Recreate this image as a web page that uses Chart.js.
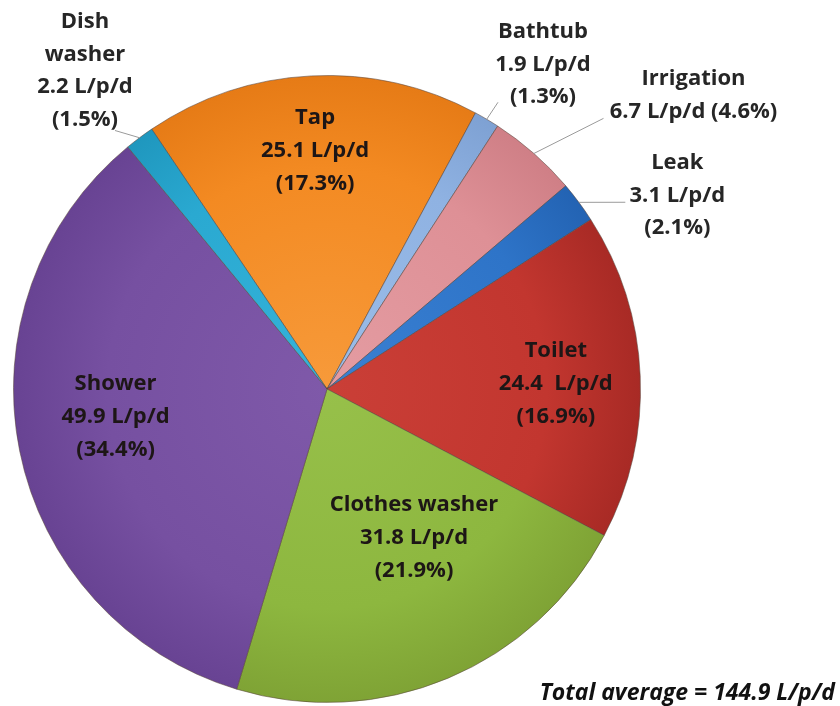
<!DOCTYPE html>
<html>
<head>
<meta charset="utf-8">
<script src="https://cdn.jsdelivr.net/npm/chart.js@4"></script>
<style>
  html, body { margin: 0; padding: 0; background: #ffffff; }
  #wrap { width: 840px; height: 706px; position: relative; }
</style>
</head>
<body>
<div id="wrap"><canvas id="c" width="840" height="706"></canvas></div>
<script>
// ---- data ----
const categories = ["Tap", "Bathtub", "Irrigation", "Leak", "Toilet", "Clothes washer", "Shower", "Dish washer"];
const litresPerPersonDay = [25.1, 1.9, 6.7, 3.1, 24.4, 31.8, 49.9, 2.2];
const percentShares = [17.3, 1.3, 4.6, 2.1, 16.9, 21.9, 34.4, 1.5];
const totalAverage = 144.9;

// ---- styles ----
const baseColors = ["#F38A22", "#8FB2E2", "#DE9096", "#2E74C8", "#C2362F", "#8DB73F", "#7650A1", "#2AA9D1"];
const rimColors  = ["#E67B16", "#7EA1D3", "#CF7F86", "#2363B3", "#A82A25", "#7FA335", "#684393", "#1F97BE"];
const centerColors = ["#F79A3A", "#9BBDE8", "#E49CA2", "#3A80D2", "#CA3F37", "#97C04A", "#7F59A9", "#35B3D9"];

// label placement: radius fraction, angle offset (deg), optional leader line end offset
const labelPlace = [
  { f: 0.76, a: 0 },
  { f: 1.244, a: 3, lead: [-45, 38] },
  { f: 1.498, a: 10, lead: [-90, 23] },
  { f: 1.277, a: 7.6, lead: [-52, 7] },
  { f: 0.73, a: 1.2 },
  { f: 0.55, a: -7.6 },
  { f: 0.68, a: 4 },
  { f: 1.276, a: -0.5, lead: [30, 60] }
];

function labelLines(i) {
  const name = categories[i];
  const v = litresPerPersonDay[i].toFixed(1) + " L/p/d";
  const p = "(" + percentShares[i].toFixed(1) + "%)";
  if (name === "Dish washer") return ["Dish", "washer", v, p];
  if (name === "Irrigation") return [name, v + " " + p];
  if (name === "Toilet") return [name, litresPerPersonDay[i].toFixed(1) + "  L/p/d", p];
  return [name, v, p];
}

const FONT = 'bold 22px "Open Sans", Lato, sans-serif';

const labelPlugin = {
  id: 'sliceLabels',
  afterDatasetsDraw(chart) {
    const ctx = chart.ctx;
    const meta = chart.getDatasetMeta(0);
    ctx.save();
    meta.data.forEach((arc, i) => {
      const pr = arc.getProps(['x', 'y', 'startAngle', 'endAngle', 'outerRadius'], true);
      const mid = (pr.startAngle + pr.endAngle) / 2;
      const spec = labelPlace[i];
      const ang = mid + spec.a * Math.PI / 180;
      const lx = pr.x + Math.cos(ang) * pr.outerRadius * spec.f;
      const ly = pr.y + Math.sin(ang) * pr.outerRadius * spec.f;
      if (spec.lead) {
        const ex = pr.x + Math.cos(mid) * pr.outerRadius;
        const ey = pr.y + Math.sin(mid) * pr.outerRadius;
        ctx.beginPath();
        ctx.strokeStyle = '#9a9a9a';
        ctx.lineWidth = 1;
        ctx.moveTo(ex, ey);
        ctx.lineTo(lx + spec.lead[0], ly + spec.lead[1]);
        ctx.stroke();
      }
      const lines = labelLines(i);
      const lh = spec.lead ? 32.5 : 33;
      ctx.font = FONT;
      ctx.fillStyle = spec.lead ? '#262626' : '#1d1616';
      ctx.textAlign = 'center';
      ctx.textBaseline = 'middle';
      const y0 = ly - (lines.length - 1) * lh / 2;
      lines.forEach((t, k) => ctx.fillText(t, lx, y0 + k * lh));
    });
    // total annotation
    ctx.font = 'italic bold 23px "Open Sans", Lato, sans-serif';
    ctx.fillStyle = '#111';
    ctx.textAlign = 'right';
    ctx.textBaseline = 'middle';
    ctx.fillText('Total average = ' + totalAverage.toFixed(1) + ' L/p/d', 835, 693);
    ctx.restore();
  }
};

function sliceFill(context) {
  const chart = context.chart;
  const i = context.dataIndex;
  const area = chart.chartArea;
  if (!area) return baseColors[i];
  const cx = (area.left + area.right) / 2;
  const cy = (area.top + area.bottom) / 2;
  const r = Math.min(area.right - area.left, area.bottom - area.top) / 2;
  const g = chart.ctx.createRadialGradient(cx, cy, 0, cx, cy, r);
  g.addColorStop(0, centerColors[i]);
  g.addColorStop(0.7, baseColors[i]);
  g.addColorStop(1, rimColors[i]);
  return g;
}

new Chart(document.getElementById('c'), {
  type: 'pie',
  data: {
    labels: categories,
    datasets: [{
      data: litresPerPersonDay,
      backgroundColor: sliceFill,
      borderColor: 'rgba(90,70,60,0.55)',
      borderWidth: 1
    }]
  },
  options: {
    responsive: false,
    animation: false,
    rotation: -34,
    layout: { padding: { left: 13, right: 199, top: 75, bottom: 3 } },
    plugins: {
      legend: { display: false },
      tooltip: { enabled: false }
    }
  },
  plugins: [labelPlugin]
});
</script>
</body>
</html>
